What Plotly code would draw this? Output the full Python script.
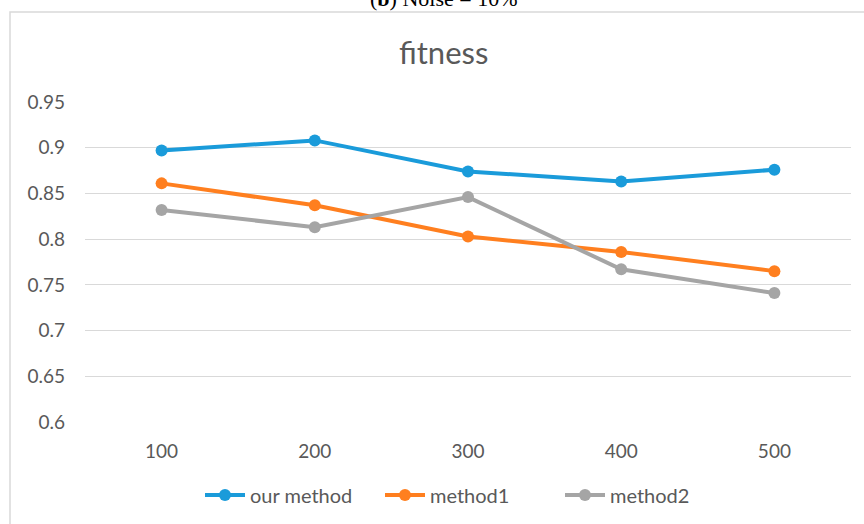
import plotly.graph_objects as go

# sample sizes on the x axis
categories = ["100", "200", "300", "400", "500"]

# fitness per method
our_method = [0.897, 0.908, 0.874, 0.863, 0.876]
method1 = [0.861, 0.837, 0.803, 0.786, 0.765]
method2 = [0.832, 0.813, 0.846, 0.767, 0.741]

y_ticks = [0.6, 0.65, 0.7, 0.75, 0.8, 0.85, 0.9, 0.95]
y_tick_text = ["0.6", "0.65", "0.7", "0.75", "0.8", "0.85", "0.9", "0.95"]

series = [
    ("our method", our_method, "#1A9BDA"),
    ("method1", method1, "#FF7F1F"),
    ("method2", method2, "#A5A5A5"),
]

fig = go.Figure()
for name, values, color in series:
    fig.add_trace(go.Scatter(
        x=categories, y=values, name=name, mode="lines+markers",
        line=dict(color=color, width=4),
        marker=dict(color=color, size=12),
    ))

W, H = 864, 524
L, R, T, B = 85, 13, 102, 102
pw, ph = W - L - R, H - T - B


def px(x):
    return (x - L) / pw


def py(y):
    return (H - B - y) / ph


font_family = "Lato, 'Open Sans', sans-serif"
grey_text = "#595959"

fig.update_layout(
    width=W, height=H,
    margin=dict(l=L, r=R, t=T, b=B, autoexpand=False),
    paper_bgcolor="white", plot_bgcolor="white",
    showlegend=True,
    legend=dict(orientation="h", x=px(200), xanchor="left", y=py(495), yanchor="middle",
                font=dict(family=font_family, size=20, color=grey_text),
                entrywidth=125, entrywidthmode="pixels", itemwidth=40, tracegroupgap=0),
    xaxis=dict(type="category", range=[-0.5, 4.5], showgrid=False, zeroline=False,
               showline=False, ticks="", ticklabelstandoff=16,
               tickfont=dict(family=font_family, size=19, color=grey_text)),
    yaxis=dict(range=[0.6, 0.95], tickvals=y_ticks, ticktext=y_tick_text,
               showgrid=True, gridcolor="#D9D9D9", gridwidth=1, zeroline=False,
               showline=False, ticks="", ticklabelstandoff=19,
               tickfont=dict(family=font_family, size=19, color=grey_text)),
    shapes=[dict(type="rect", xref="paper", yref="paper",
                 x0=px(10), x1=px(880), y0=py(540), y1=py(12),
                 line=dict(color="#D9D9D9", width=1.5), fillcolor="rgba(0,0,0,0)", layer="below")],
    annotations=[
        dict(text="fitness", xref="paper", yref="paper", x=px(443), y=py(52),
             xanchor="center", yanchor="middle", showarrow=False,
             font=dict(family=font_family, size=31, color=grey_text)),
        dict(text="(<b>b</b>) Noise = 10%", xref="paper", yref="paper", x=px(443), y=py(-2),
             xanchor="center", yanchor="middle", showarrow=False,
             font=dict(family="'Liberation Serif', serif", size=22, color="black")),
    ],
)

fig.write_html("out.html")
